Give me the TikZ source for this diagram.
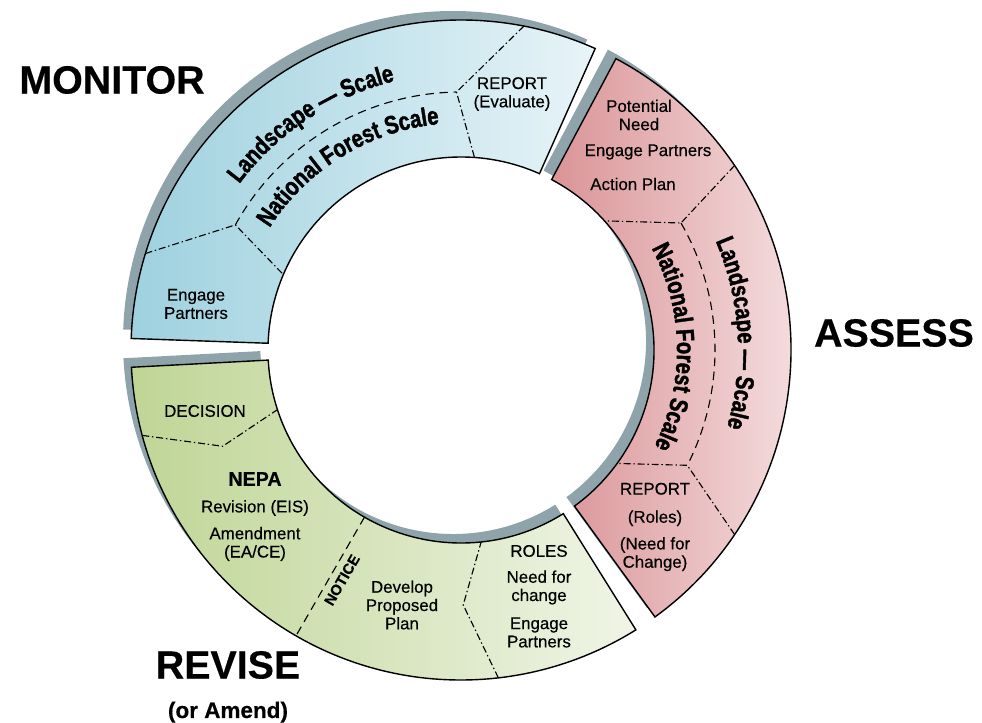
\documentclass[tikz,border=0pt]{standalone}
\usepackage{fontspec}
\setmainfont{Liberation Sans}[FakeBold=0.4]
\newfontfamily\arcfont{Liberation Sans}[FakeStretch=0.8, FakeBold=1.6]
\usetikzlibrary{decorations.text}

\definecolor{monitorleft}{HTML}{9ED1DF}
\definecolor{monitorright}{HTML}{E8F4F8}
\definecolor{assessleft}{HTML}{DA9497}
\definecolor{assessright}{HTML}{F8E8E9}
\definecolor{reviseleft}{HTML}{BFD595}
\definecolor{reviseright}{HTML}{F0F5E7}
\definecolor{greyback}{HTML}{8FA3AB}

\newcommand{\arcstyle}{\arcfont\bfseries\fontsize{18}{20}\selectfont}

\tikzset{
  part/.style={draw=black, line width=1pt},
  backpart/.style={fill=greyback},
  border/.style={line width=0.8pt, dash pattern=on 5pt off 2pt on 1pt off 2pt},
  midline/.style={line width=0.8pt, dash pattern=on 6pt off 4pt},
  small/.style={font=\fontsize{12}{13}\selectfont, align=center},
  big/.style={font=\fontsize{28}{30}\selectfont\bfseries},
  arclabel/.style={decorate, decoration={text along path, text align=center, text={|\arcstyle|#1}}}
}

\begin{document}
\begin{tikzpicture}[x=0.025cm, y=0.025cm]
\useasboundingbox (0,0) rectangle (982,723);

\begin{scope}[shift={(461,373)}]

\fill[backpart, shift={(-8,9)}] (66:330) arc[start angle=66, end angle=178, radius=330] -- (178:193) arc[start angle=178, end angle=66, radius=193] -- cycle;
\fill[backpart, shift={(-8,9)}] (-54:330) arc[start angle=-54, end angle=62, radius=330] -- (62:193) arc[start angle=62, end angle=-54, radius=193] -- cycle;
\fill[backpart, shift={(-8,9)}] (183:330) arc[start angle=183, end angle=302, radius=330] -- (302:193) arc[start angle=302, end angle=183, radius=193] -- cycle;

% monitor
\draw[part, left color=monitorleft, right color=monitorright] (66:330) arc[start angle=66, end angle=178, radius=330] -- (178:193) arc[start angle=178, end angle=66, radius=193] -- cycle;
\draw[midline] (151:258) arc[start angle=151, end angle=91, radius=258];
\draw[border] (79:330) -- (91:258) -- (86:193);
\draw[border] (163:330) -- (151:258) -- (157:193);
\path[arclabel={Landscape — Scale}] (158.5:277) arc[start angle=158.5, end angle=88.5, radius=277];
\path[arclabel={National Forest Scale}] (161.5:227) arc[start angle=161.5, end angle=81.5, radius=227];

% assess
\draw[part, left color=assessleft, right color=assessright] (-54:330) arc[start angle=-54, end angle=62, radius=330] -- (62:193) arc[start angle=62, end angle=-54, radius=193] -- cycle;
\draw[midline] (30:254) arc[start angle=30, end angle=-27, radius=254];
\draw[border] (34:330) -- (30:254) -- (42:193);
\draw[border] (-34:330) -- (-27:254) -- (-36:193);
\path[arclabel={Landscape — Scale}] (38.5:277) arc[start angle=38.5, end angle=-31.5, radius=277];
\path[arclabel={National Forest Scale}] (40.8:216) arc[start angle=40.8, end angle=-39.2, radius=216];

% revise
\draw[part, left color=reviseleft, right color=reviseright] (183:330) arc[start angle=183, end angle=302, radius=330] -- (302:193) arc[start angle=302, end angle=183, radius=193] -- cycle;
\draw[border] (195:330) -- (202:257) -- (198:193);
\draw[border] (276.5:330) -- (270.5:255) -- (276:193);
\draw[midline] (240:193) -- (240:330);

\end{scope}

\node[small] (reportmon) at (512,629) {REPORT\\(Evaluate)};
\node[small] (engagemon) at (196,419) {Engage\\Partners};
\node[small] (potential) at (639,608) {Potential\\Need};
\node[small] (engageass) at (648,571) {Engage Partners};
\node[small] (actionplan) at (633,539) {Action Plan};
\node[small] (reportass) at (655,196) {REPORT\\[7pt](Roles)\\[6pt](Need for\\Change)};

\node[small] (decision) at (205,312) {DECISION};
\node[font=\fontsize{14}{16}\selectfont\bfseries] (nepa) at (255,244) {NEPA};
\node[small] (revision) at (255,215) {Revision (EIS)};
\node[small] (amendment) at (255,179) {Amendment\\(EA/CE)};
\node[font=\fontsize{10.5}{12}\selectfont\bfseries, rotate=60] (notice) at (342,143) {NOTICE};
\node[small] (develop) at (402,118) {Develop\\Proposed\\Plan};
\node[small] (roles) at (539,172) {ROLES};
\node[small] (needchange) at (539,135.5) {Need for\\change};
\node[small] (engagerev) at (539,90.5) {Engage\\Partners};

\node[big] (monitor) at (112,643) {MONITOR};
\node[big] (assess) at (894,390) {ASSESS};
\node[big] (revise) at (228,58) {REVISE};
\node[font=\fontsize{16}{18}\selectfont\bfseries, anchor=base] (amend) at (228,5) {(or Amend)};

\end{tikzpicture}
\end{document}
